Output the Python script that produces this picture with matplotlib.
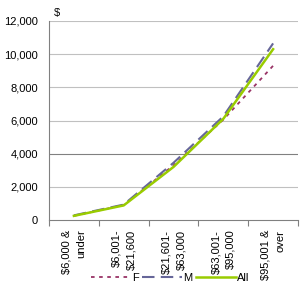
import matplotlib
matplotlib.use("Agg")
import matplotlib.pyplot as plt

plt.rcParams['font.family'] = ['Liberation Sans', 'DejaVu Sans']

categories = ["$6,000 &\nunder", "$6,001-\n$21,600", "$21,601-\n$63,000", "$63,001-\n$95,000", "$95,001 &\nover"]
f_vals = [250, 900, 3300, 6050, 9300]
m_vals = [280, 930, 3450, 6250, 10650]
all_vals = [250, 880, 3200, 6100, 10300]
yticks = [0, 2000, 4000, 6000, 8000, 10000, 12000]

fig = plt.figure(figsize=(3.03, 3.03), dpi=100)
ax = fig.add_axes([49/303, 1-220/303, 249/303, 199/303])
x = list(range(len(categories)))

ax.plot(x, f_vals, color="#993366", lw=1.3, linestyle=(0, (2, 2.5)), label="F")
ax.plot(x, m_vals, color="#666699", lw=1.5, linestyle=(0, (6, 3)), label="M")
ax.plot(x, all_vals, color="#99CC00", lw=1.8, label="All")

ax.set_xlim(-0.5, 4.5)
ax.set_ylim(0, 12000)
ax.set_yticks(yticks)
ax.set_yticklabels([f"{v:,}" for v in yticks], fontsize=8)
for v in yticks[1:]:
    ax.axhline(v, color="#808080" if v == 4000 else "#c0c0c0", lw=0.8, zorder=0)

ax.set_xticks([i - 0.5 for i in range(6)])
ax.set_xticklabels([])
ax.set_xticks(x, minor=True)
labels = ax.set_xticklabels(categories, minor=True, rotation=90, fontsize=8, va="top", ha="center", linespacing=1.6)
for t in labels:
    t.set_multialignment("right")
ax.tick_params(axis="x", which="minor", length=0, pad=7)
ax.tick_params(axis="x", which="major", length=4, color="#808080", direction="out")
ax.tick_params(axis="y", length=0, pad=8)

for s in ["top", "right"]:
    ax.spines[s].set_visible(False)
for s in ["left", "bottom"]:
    ax.spines[s].set_color("#808080")
    ax.spines[s].set_linewidth(0.8)

ax.text(54/303, 1-13/303, "$", transform=fig.transFigure, fontsize=8, ha="left", va="center")

fig.legend(loc="center", bbox_to_anchor=(170/303, 1-278/303), ncol=3, frameon=False,
           fontsize=8, handlelength=3.6, handletextpad=0.1, columnspacing=0.3)

fig.savefig("out.png", dpi=100)
